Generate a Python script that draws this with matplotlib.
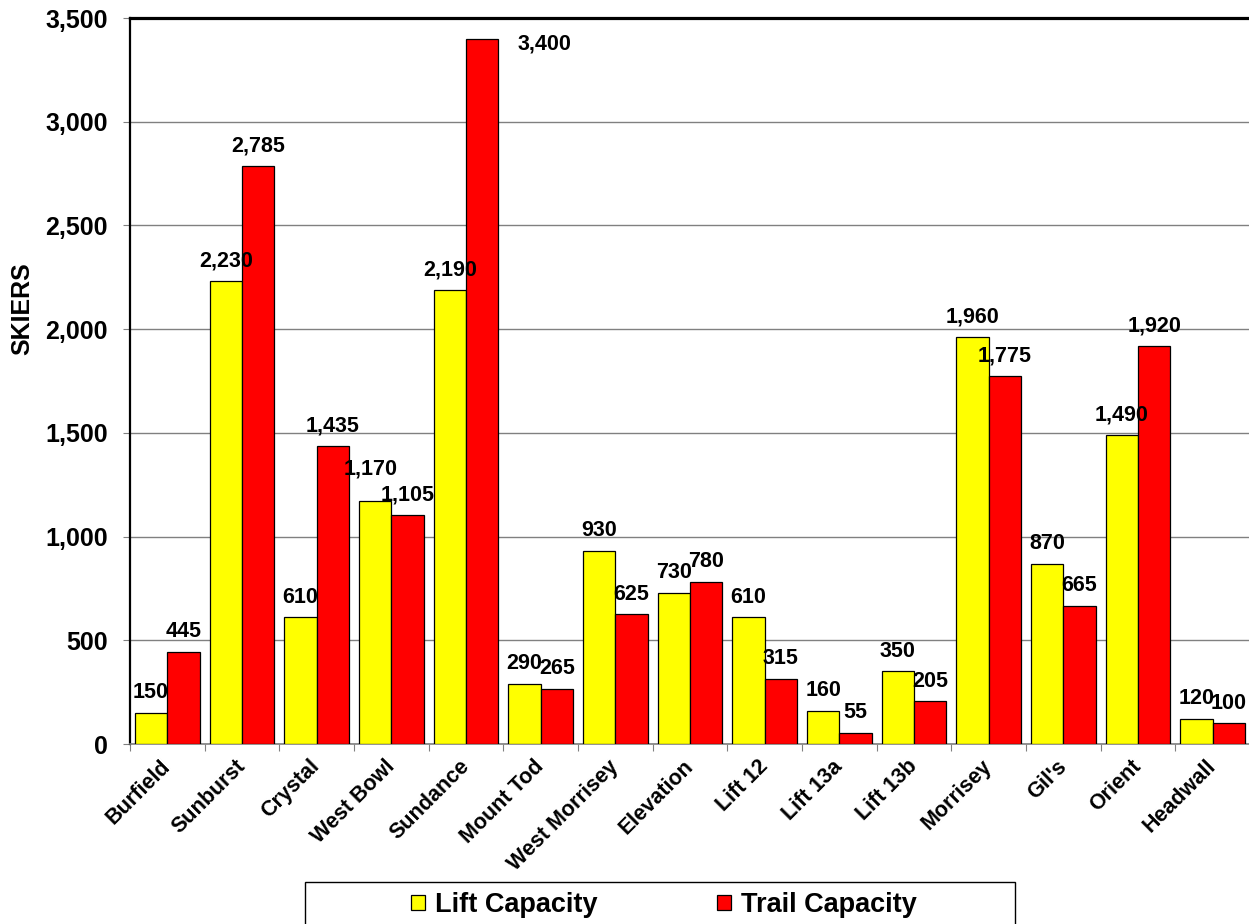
import matplotlib
matplotlib.use("Agg")
import matplotlib.pyplot as plt
import numpy as np
from matplotlib.patches import Patch, Rectangle
from matplotlib.ticker import FuncFormatter, MultipleLocator

plt.rcParams['font.family'] = ['Liberation Sans', 'DejaVu Sans']
plt.rcParams['font.weight'] = 'bold'

# capacidad por sector
lifts = ["Burfield", "Sunburst", "Crystal", "West Bowl", "Sundance", "Mount Tod",
         "West Morrisey", "Elevation", "Lift 12", "Lift 13a", "Lift 13b",
         "Morrisey", "Gil's", "Orient", "Headwall"]
lift_cap = [150, 2230, 610, 1170, 2190, 290, 930, 730, 610, 160, 350, 1960, 870, 1490, 120]
trail_cap = [445, 2785, 1435, 1105, 3400, 265, 625, 780, 315, 55, 205, 1775, 665, 1920, 100]

ymax = 3500
W, H = 1249, 924

fig = plt.figure(figsize=(W / 100, H / 100), dpi=100)
ax = fig.add_axes([130 / W, 1 - 744 / H, 1120 / W, 726 / H])

x = np.arange(len(lifts))
w = 0.435
b1 = ax.bar(x - w / 2, lift_cap, w, color="#ffff00", edgecolor="black", linewidth=0.9,
            label="Lift Capacity", zorder=3)
b2 = ax.bar(x + w / 2, trail_cap, w, color="#ff0000", edgecolor="black", linewidth=0.9,
            label="Trail Capacity", zorder=3)

# etiquetas de valores (West Bowl: subir la etiqueta amarilla para que no choque)
extra_dy = {("Lift Capacity", "West Bowl"): (-3, 9)}
for bars, vals in ((b1, lift_cap), (b2, trail_cap)):
    serie = bars.get_label()
    for name, rect, v in zip(lifts, bars, vals):
        if v + 150 > ymax:
            ax.annotate(f"{v:,}", xy=(rect.get_x() + rect.get_width(), v),
                        xytext=(14, -4), textcoords="offset points",
                        ha="left", va="center", fontsize=15.5, fontweight="bold")
        else:
            dx, dy = extra_dy.get((serie, name), (0, 0))
            ax.annotate(f"{v:,}", xy=(rect.get_x() + rect.get_width() / 2, v),
                        xytext=(dx, 7 + dy), textcoords="offset points",
                        ha="center", va="bottom", fontsize=15.5, fontweight="bold")

ax.set_xlim(-0.5, len(lifts) - 0.5)
ax.set_ylim(0, ymax)

ax.yaxis.set_major_locator(MultipleLocator(500))
ax.yaxis.set_major_formatter(FuncFormatter(lambda v, p: f"{int(v):,}"))
ax.grid(axis="y", color="#808080", linewidth=1.0, zorder=0)
ax.set_axisbelow(True)

ax.set_xticks(np.arange(len(lifts) + 1) - 0.5)
ax.set_xticklabels([])
ax.set_xticks(x, minor=True)
ax.set_xticklabels(lifts, minor=True, rotation=45, ha="right", va="center",
                   rotation_mode="anchor", fontsize=15.5, fontweight="bold")
ax.tick_params(axis="x", which="minor", length=0, pad=14)
ax.tick_params(axis="x", which="major", length=5, color="#808080", direction="out")
ax.tick_params(axis="y", length=5, color="#808080", direction="out", pad=11, labelsize=18)
for lab in ax.get_yticklabels():
    lab.set_fontweight("bold")

ax.spines["left"].set_color("black")
ax.spines["left"].set_linewidth(1.6)
ax.spines["top"].set_color("black")
ax.spines["top"].set_linewidth(2.3)
ax.spines["bottom"].set_color("#808080")
ax.spines["bottom"].set_linewidth(1.2)
ax.spines["right"].set_visible(False)

ax.set_ylabel("SKIERS", fontsize=18, fontweight="bold")
ax.yaxis.set_label_coords(-0.0857, 0.60)

# leyenda con recuadro
fig.patches.append(Rectangle((305 / W, -0.01), 710 / W, 1 - 882 / H + 0.01,
                             transform=fig.transFigure, facecolor="white",
                             edgecolor="black", linewidth=1.0))
handles = [Patch(facecolor="#ffff00", edgecolor="black", linewidth=0.9, label="Lift Capacity"),
           Patch(facecolor="#ff0000", edgecolor="black", linewidth=0.9, label="Trail Capacity")]
fig.legend(handles=handles, loc="center", bbox_to_anchor=(664 / W, 1 - 905 / H),
           ncol=2, frameon=False, prop={"size": 19.5, "weight": "bold"},
           handlelength=0.52, handleheight=0.52, handletextpad=0.37, columnspacing=4.4)

plt.savefig("out.png", dpi=100)
plt.close()
